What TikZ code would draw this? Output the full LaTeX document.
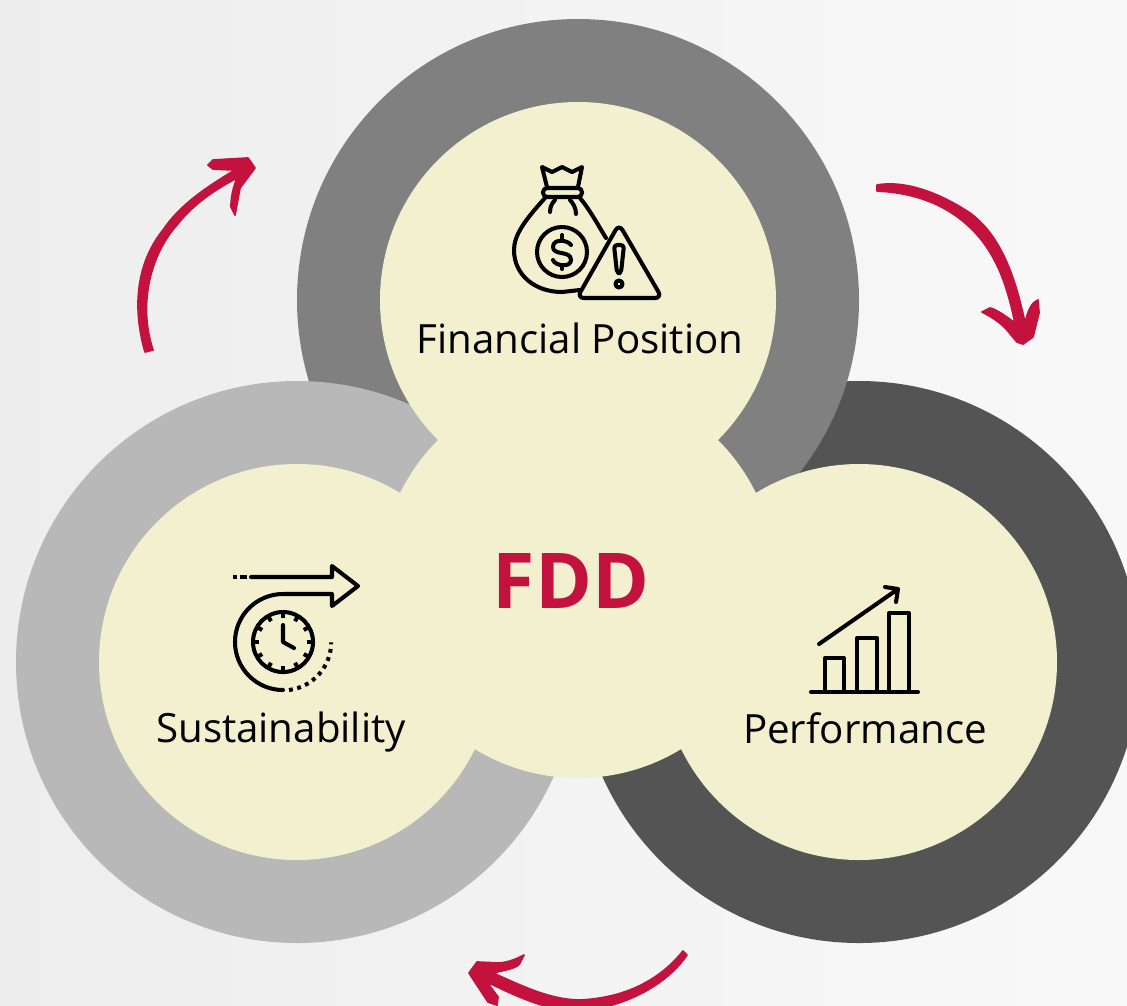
\documentclass[tikz,border=0pt]{standalone}
\usepackage{fontspec}
\setmainfont{Open Sans}
\definecolor{cream}{HTML}{F2F0CF}
\definecolor{crimson}{HTML}{C4123F}
\definecolor{ringtop}{HTML}{808080}
\definecolor{ringright}{HTML}{545454}
\definecolor{ringleft}{HTML}{B8B8B8}
\begin{document}
\begin{tikzpicture}[x=0.01cm,y=-0.01cm,>=stealth,
disc/.style = {fill = cream},
icon/.style = {draw = black, line width = 1.15pt, line join = round, line cap = round},
caption/.style = {font = \fontsize{11.45pt}{14pt}\selectfont, text = black, inner sep = 0pt, anchor = base},
sketch/.style = {fill = crimson, draw = crimson, line width = 0.5pt, line join = round},]
\clip (0,0) rectangle (1127,1005);
\shade[left color = white!93!black, right color = white!97.5!black] (0,0) rectangle (1127,1005);
% rings
\fill[ringright] (859,662) circle (281);
\fill[ringtop] (578,300) circle (281);
\fill[ringleft] (297,662) circle (281);
% discs
\fill[disc] (578,300) circle (198);
\fill[disc] (297,662) circle (198);
\fill[disc] (859,662) circle (198);
\fill[disc] (578,580) circle (198);
% labels
\node (fdd) at (571,581) [font = \fontsize{21.9pt}{26pt}\selectfont\bfseries, text = crimson, inner sep = 0pt] {FDD};
\node (fin) at (580,353) [caption] {Financial Position};
\node (sus) at (281,742) [caption] {Sustainability};
\node (per) at (865,743) [caption] {Performance};
% money bag
\draw[icon] (547,187)--(542,167)--(552,172)--(562,167)--(572,172)--(582,167)--(578,187);
\draw[icon,rounded corners=1.2pt] (543,188) rectangle (582,197);
\draw[icon] (545,198) .. controls (525,220) and (514,235) .. (514,250) .. controls (514,275) and (535,292) .. (562,292)--(580,290);
\draw[icon] (580,198) .. controls (590,210) and (598,225) .. (606,238);
\draw[icon] (550,212) .. controls (550,207) and (552,203) .. (555,200);
\draw[icon] (576,214) .. controls (576,208) and (573,203) .. (570,200);
\draw[icon] (562,252) circle (25);
\draw[icon] (571,245) .. controls (568,240) and (553,238) .. (553,247) .. controls (553,256) and (571,250) .. (571,260) .. controls (571,268) and (555,266) .. (553,260);
\draw[icon] (562,235)--(562,240) (562,265)--(562,269);
% warning sign
\draw[icon,rounded corners=2pt] (619,224)--(662,298)--(577,298)--cycle;
\draw[icon,rounded corners=0.9pt] (614,245)--(624,245)--(621,273)--(617,273)--cycle;
\draw[icon] (619,284) circle (3.5);
% clock and arrow
\draw[icon,line cap=butt] (233,577)--(237,577) (240,577)--(247,577);
\draw[icon] (251,577)--(332,577)--(332,566)--(358,586)--(332,606)--(332,594)--(283,594) arc (-90:-270:48);
\draw[icon,line cap=butt,dash pattern=on 1.1pt off 1.3pt] (289,690) arc (83:0:48);
\draw[icon] (283,642) circle (30);
\foreach \a in {0,30,...,330}
  \draw[icon,line cap=butt,shift={(283,642)}] (\a:30)--(\a:24);
\draw[icon] (283,625)--(283,642)--(294,648);
% bar chart
\draw[icon] (811,692)--(918,692);
\draw[icon] (825,692)--(825,658)--(844,658)--(844,692);
\draw[icon] (857,692)--(857,638)--(877,638)--(877,692);
\draw[icon] (889,692)--(889,613)--(909,613)--(909,692);
\draw[icon] (819,644)--(898,589) (885,587)--(898,589)--(896,602);
% hand drawn arrows
\path[sketch] (145,352) .. controls (133,310) and (135,265) .. (163,230) .. controls (180,205) and (205,188) .. (235,170)--(213,169)--(208,165)--(213,160)--(248,158)--(255,168)--(240,188)--(235,215)--(231,207) .. controls (231,198) and (233,188) .. (237,178) .. controls (210,192) and (190,208) .. (177,225) .. controls (150,255) and (138,305) .. (153,350)--cycle;
\path[sketch] (877,185) .. controls (905,180) and (940,193) .. (970,213) .. controls (1000,235) and (1015,275) .. (1025,323) .. controls (1028,310) and (1032,302) .. (1038,300)--(1039,313)--(1033,337)--(1023,344)--(1017,342)--(1007,330) .. controls (1000,322) and (990,316) .. (982,312)--(990,308) .. controls (998,310) and (1008,318) .. (1015,323) .. controls (1008,290) and (1000,265) .. (983,242) .. controls (960,212) and (925,193) .. (877,191)--cycle;
\path[sketch] (683,951) .. controls (660,980) and (625,998) .. (580,1000) .. controls (550,1000) and (520,985) .. (493,973) .. controls (505,970) and (518,968) .. (520,963)--(524,955) .. controls (515,960) and (505,963) .. (498,963)--(477,962)--(469,973)--(488,1002)--(497,1005)--(498,997)--(487,982) .. controls (510,993) and (530,1003) .. (560,1010)--(612,1005) .. controls (640,997) and (670,980) .. (687,955)--cycle;
\end{tikzpicture}
\end{document}
